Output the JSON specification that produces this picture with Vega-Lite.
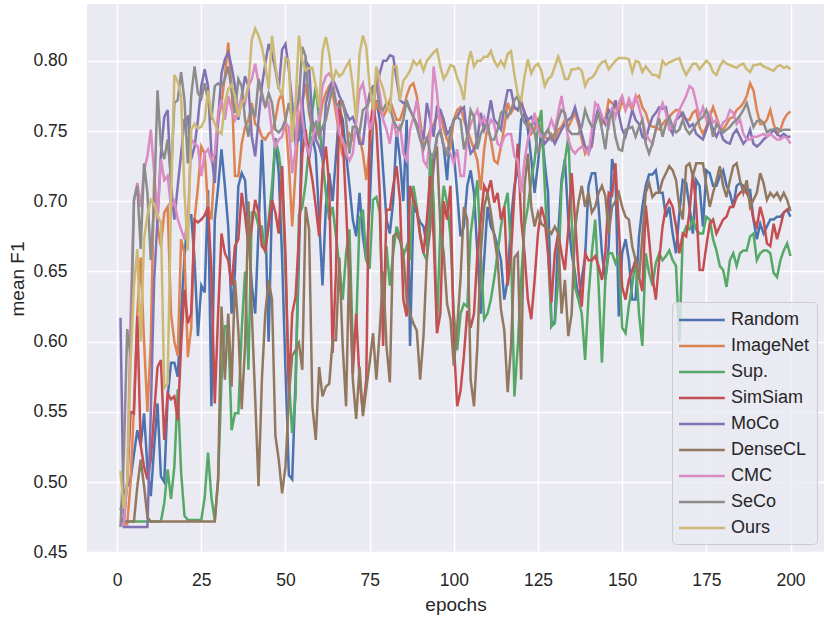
{
  "$schema": "https://vega.github.io/schema/vega-lite/v6.json",
  "width": 737,
  "height": 549,
  "autosize": {"type": "none"},
  "padding": {"left": 87, "top": 4, "right": 6, "bottom": 65},
  "background": "white",
  "config": {
    "font": "Liberation Sans",
    "view": {"fill": "#EAEAF2", "stroke": null},
    "axis": {
      "grid": true,
      "gridColor": "white",
      "gridWidth": 1.5,
      "domain": false,
      "ticks": false,
      "labelFontSize": 17.5,
      "labelColor": "#262626",
      "titleFontSize": 19,
      "titleFontWeight": "normal",
      "titleColor": "#262626"
    }
  },
  "data": {
    "values": [
      {"e":1,"Random":0.48,"ImageNet":0.47,"Sup":0.472,"SimSiam":0.473,"MoCo":0.617,"DenseCL":0.472,"CMC":0.47,"SeCo":0.468,"Ours":0.508},
      {"e":2,"Random":0.49,"ImageNet":0.47,"Sup":0.472,"SimSiam":0.473,"MoCo":0.468,"DenseCL":0.472,"CMC":0.47,"SeCo":0.52,"Ours":0.481},
      {"e":3,"Random":0.497,"ImageNet":0.47,"Sup":0.472,"SimSiam":0.5,"MoCo":0.468,"DenseCL":0.472,"CMC":0.5,"SeCo":0.609,"Ours":0.5},
      {"e":4,"Random":0.502,"ImageNet":0.5,"Sup":0.472,"SimSiam":0.55,"MoCo":0.468,"DenseCL":0.472,"CMC":0.62,"SeCo":0.59,"Ours":0.585},
      {"e":5,"Random":0.52,"ImageNet":0.554,"Sup":0.472,"SimSiam":0.549,"MoCo":0.468,"DenseCL":0.472,"CMC":0.701,"SeCo":0.701,"Ours":0.64},
      {"e":6,"Random":0.537,"ImageNet":0.62,"Sup":0.472,"SimSiam":0.618,"MoCo":0.468,"DenseCL":0.497,"CMC":0.713,"SeCo":0.711,"Ours":0.666},
      {"e":7,"Random":0.526,"ImageNet":0.66,"Sup":0.472,"SimSiam":0.526,"MoCo":0.468,"DenseCL":0.516,"CMC":0.696,"SeCo":0.666,"Ours":0.6},
      {"e":8,"Random":0.549,"ImageNet":0.6,"Sup":0.472,"SimSiam":0.511,"MoCo":0.468,"DenseCL":0.497,"CMC":0.722,"SeCo":0.727,"Ours":0.673},
      {"e":9,"Random":0.51,"ImageNet":0.55,"Sup":0.472,"SimSiam":0.502,"MoCo":0.468,"DenseCL":0.475,"CMC":0.732,"SeCo":0.706,"Ours":0.69},
      {"e":10,"Random":0.49,"ImageNet":0.6,"Sup":0.472,"SimSiam":0.516,"MoCo":0.55,"DenseCL":0.472,"CMC":0.751,"SeCo":0.658,"Ours":0.701},
      {"e":11,"Random":0.525,"ImageNet":0.718,"Sup":0.472,"SimSiam":0.549,"MoCo":0.644,"DenseCL":0.472,"CMC":0.72,"SeCo":0.7,"Ours":0.698},
      {"e":12,"Random":0.556,"ImageNet":0.682,"Sup":0.472,"SimSiam":0.582,"MoCo":0.687,"DenseCL":0.472,"CMC":0.687,"SeCo":0.779,"Ours":0.69},
      {"e":13,"Random":0.504,"ImageNet":0.668,"Sup":0.472,"SimSiam":0.587,"MoCo":0.734,"DenseCL":0.472,"CMC":0.73,"SeCo":0.739,"Ours":0.685},
      {"e":14,"Random":0.5,"ImageNet":0.692,"Sup":0.485,"SimSiam":0.53,"MoCo":0.76,"DenseCL":0.472,"CMC":0.715,"SeCo":0.73,"Ours":0.567},
      {"e":15,"Random":0.56,"ImageNet":0.696,"Sup":0.509,"SimSiam":0.563,"MoCo":0.765,"DenseCL":0.472,"CMC":0.718,"SeCo":0.744,"Ours":0.57},
      {"e":16,"Random":0.585,"ImageNet":0.62,"Sup":0.488,"SimSiam":0.559,"MoCo":0.711,"DenseCL":0.472,"CMC":0.696,"SeCo":0.716,"Ours":0.7},
      {"e":17,"Random":0.585,"ImageNet":0.6,"Sup":0.511,"SimSiam":0.561,"MoCo":0.687,"DenseCL":0.472,"CMC":0.7,"SeCo":0.77,"Ours":0.79},
      {"e":18,"Random":0.575,"ImageNet":0.59,"Sup":0.566,"SimSiam":0.544,"MoCo":0.711,"DenseCL":0.472,"CMC":0.687,"SeCo":0.772,"Ours":0.785},
      {"e":19,"Random":0.62,"ImageNet":0.673,"Sup":0.507,"SimSiam":0.597,"MoCo":0.734,"DenseCL":0.472,"CMC":0.68,"SeCo":0.792,"Ours":0.775},
      {"e":20,"Random":0.66,"ImageNet":0.663,"Sup":0.476,"SimSiam":0.637,"MoCo":0.758,"DenseCL":0.472,"CMC":0.673,"SeCo":0.772,"Ours":0.706},
      {"e":21,"Random":0.69,"ImageNet":0.589,"Sup":0.473,"SimSiam":0.613,"MoCo":0.76,"DenseCL":0.472,"CMC":0.687,"SeCo":0.727,"Ours":0.665},
      {"e":22,"Random":0.69,"ImageNet":0.61,"Sup":0.473,"SimSiam":0.62,"MoCo":0.73,"DenseCL":0.472,"CMC":0.744,"SeCo":0.775,"Ours":0.751},
      {"e":23,"Random":0.658,"ImageNet":0.687,"Sup":0.473,"SimSiam":0.687,"MoCo":0.739,"DenseCL":0.472,"CMC":0.741,"SeCo":0.796,"Ours":0.755},
      {"e":24,"Random":0.604,"ImageNet":0.71,"Sup":0.473,"SimSiam":0.685,"MoCo":0.758,"DenseCL":0.472,"CMC":0.739,"SeCo":0.777,"Ours":0.752},
      {"e":25,"Random":0.64,"ImageNet":0.739,"Sup":0.473,"SimSiam":0.687,"MoCo":0.782,"DenseCL":0.472,"CMC":0.718,"SeCo":0.773,"Ours":0.753},
      {"e":26,"Random":0.635,"ImageNet":0.734,"Sup":0.489,"SimSiam":0.69,"MoCo":0.794,"DenseCL":0.472,"CMC":0.734,"SeCo":0.784,"Ours":0.758},
      {"e":27,"Random":0.708,"ImageNet":0.696,"Sup":0.521,"SimSiam":0.696,"MoCo":0.782,"DenseCL":0.472,"CMC":0.737,"SeCo":0.772,"Ours":0.779},
      {"e":28,"Random":0.554,"ImageNet":0.687,"Sup":0.489,"SimSiam":0.65,"MoCo":0.734,"DenseCL":0.472,"CMC":0.729,"SeCo":0.758,"Ours":0.762},
      {"e":29,"Random":0.687,"ImageNet":0.727,"Sup":0.473,"SimSiam":0.556,"MoCo":0.713,"DenseCL":0.472,"CMC":0.734,"SeCo":0.782,"Ours":0.755},
      {"e":30,"Random":0.71,"ImageNet":0.758,"Sup":0.502,"SimSiam":0.62,"MoCo":0.758,"DenseCL":0.502,"CMC":0.763,"SeCo":0.784,"Ours":0.75},
      {"e":31,"Random":0.737,"ImageNet":0.77,"Sup":0.573,"SimSiam":0.677,"MoCo":0.791,"DenseCL":0.625,"CMC":0.772,"SeCo":0.782,"Ours":0.748},
      {"e":32,"Random":0.711,"ImageNet":0.789,"Sup":0.611,"SimSiam":0.663,"MoCo":0.801,"DenseCL":0.573,"CMC":0.758,"SeCo":0.787,"Ours":0.77},
      {"e":33,"Random":0.682,"ImageNet":0.813,"Sup":0.611,"SimSiam":0.658,"MoCo":0.806,"DenseCL":0.62,"CMC":0.775,"SeCo":0.796,"Ours":0.78},
      {"e":34,"Random":0.62,"ImageNet":0.782,"Sup":0.537,"SimSiam":0.64,"MoCo":0.796,"DenseCL":0.568,"CMC":0.765,"SeCo":0.779,"Ours":0.783},
      {"e":35,"Random":0.65,"ImageNet":0.718,"Sup":0.549,"SimSiam":0.668,"MoCo":0.782,"DenseCL":0.644,"CMC":0.758,"SeCo":0.763,"Ours":0.775},
      {"e":36,"Random":0.711,"ImageNet":0.718,"Sup":0.549,"SimSiam":0.673,"MoCo":0.758,"DenseCL":0.608,"CMC":0.765,"SeCo":0.787,"Ours":0.76},
      {"e":37,"Random":0.72,"ImageNet":0.741,"Sup":0.608,"SimSiam":0.706,"MoCo":0.775,"DenseCL":0.552,"CMC":0.775,"SeCo":0.782,"Ours":0.77},
      {"e":38,"Random":0.715,"ImageNet":0.753,"Sup":0.65,"SimSiam":0.69,"MoCo":0.789,"DenseCL":0.597,"CMC":0.77,"SeCo":0.758,"Ours":0.773},
      {"e":39,"Random":0.677,"ImageNet":0.758,"Sup":0.58,"SimSiam":0.668,"MoCo":0.782,"DenseCL":0.7,"CMC":0.782,"SeCo":0.746,"Ours":0.783},
      {"e":40,"Random":0.64,"ImageNet":0.77,"Sup":0.692,"SimSiam":0.682,"MoCo":0.746,"DenseCL":0.62,"CMC":0.787,"SeCo":0.767,"Ours":0.815},
      {"e":41,"Random":0.62,"ImageNet":0.755,"Sup":0.692,"SimSiam":0.701,"MoCo":0.732,"DenseCL":0.56,"CMC":0.798,"SeCo":0.76,"Ours":0.823},
      {"e":42,"Random":0.68,"ImageNet":0.753,"Sup":0.682,"SimSiam":0.692,"MoCo":0.758,"DenseCL":0.497,"CMC":0.784,"SeCo":0.787,"Ours":0.818},
      {"e":43,"Random":0.744,"ImageNet":0.746,"Sup":0.682,"SimSiam":0.668,"MoCo":0.782,"DenseCL":0.573,"CMC":0.775,"SeCo":0.777,"Ours":0.81},
      {"e":44,"Random":0.69,"ImageNet":0.744,"Sup":0.663,"SimSiam":0.665,"MoCo":0.798,"DenseCL":0.62,"CMC":0.767,"SeCo":0.767,"Ours":0.797},
      {"e":45,"Random":0.6,"ImageNet":0.748,"Sup":0.687,"SimSiam":0.682,"MoCo":0.812,"DenseCL":0.644,"CMC":0.77,"SeCo":0.777,"Ours":0.78},
      {"e":46,"Random":0.7,"ImageNet":0.75,"Sup":0.711,"SimSiam":0.701,"MoCo":0.805,"DenseCL":0.63,"CMC":0.749,"SeCo":0.77,"Ours":0.818},
      {"e":47,"Random":0.745,"ImageNet":0.758,"Sup":0.744,"SimSiam":0.692,"MoCo":0.794,"DenseCL":0.533,"CMC":0.739,"SeCo":0.751,"Ours":0.797},
      {"e":48,"Random":0.72,"ImageNet":0.772,"Sup":0.734,"SimSiam":0.677,"MoCo":0.78,"DenseCL":0.516,"CMC":0.744,"SeCo":0.749,"Ours":0.781},
      {"e":49,"Random":0.66,"ImageNet":0.777,"Sup":0.715,"SimSiam":0.725,"MoCo":0.808,"DenseCL":0.492,"CMC":0.746,"SeCo":0.752,"Ours":0.775},
      {"e":50,"Random":0.58,"ImageNet":0.758,"Sup":0.65,"SimSiam":0.663,"MoCo":0.812,"DenseCL":0.511,"CMC":0.756,"SeCo":0.758,"Ours":0.802},
      {"e":51,"Random":0.505,"ImageNet":0.727,"Sup":0.573,"SimSiam":0.563,"MoCo":0.794,"DenseCL":0.561,"CMC":0.753,"SeCo":0.77,"Ours":0.8},
      {"e":52,"Random":0.502,"ImageNet":0.682,"Sup":0.535,"SimSiam":0.62,"MoCo":0.77,"DenseCL":0.59,"CMC":0.72,"SeCo":0.758,"Ours":0.742},
      {"e":53,"Random":0.573,"ImageNet":0.722,"Sup":0.561,"SimSiam":0.632,"MoCo":0.741,"DenseCL":0.594,"CMC":0.737,"SeCo":0.765,"Ours":0.77},
      {"e":54,"Random":0.66,"ImageNet":0.758,"Sup":0.69,"SimSiam":0.675,"MoCo":0.744,"DenseCL":0.599,"CMC":0.782,"SeCo":0.773,"Ours":0.818},
      {"e":55,"Random":0.77,"ImageNet":0.77,"Sup":0.696,"SimSiam":0.734,"MoCo":0.767,"DenseCL":0.58,"CMC":0.76,"SeCo":0.81,"Ours":0.8},
      {"e":56,"Random":0.746,"ImageNet":0.784,"Sup":0.713,"SimSiam":0.751,"MoCo":0.8,"DenseCL":0.696,"CMC":0.741,"SeCo":0.803,"Ours":0.793},
      {"e":57,"Random":0.73,"ImageNet":0.763,"Sup":0.739,"SimSiam":0.729,"MoCo":0.796,"DenseCL":0.68,"CMC":0.734,"SeCo":0.767,"Ours":0.795},
      {"e":58,"Random":0.746,"ImageNet":0.751,"Sup":0.765,"SimSiam":0.715,"MoCo":0.758,"DenseCL":0.554,"CMC":0.744,"SeCo":0.751,"Ours":0.795},
      {"e":59,"Random":0.734,"ImageNet":0.746,"Sup":0.782,"SimSiam":0.696,"MoCo":0.744,"DenseCL":0.53,"CMC":0.755,"SeCo":0.756,"Ours":0.782},
      {"e":60,"Random":0.687,"ImageNet":0.755,"Sup":0.758,"SimSiam":0.675,"MoCo":0.739,"DenseCL":0.582,"CMC":0.758,"SeCo":0.746,"Ours":0.767},
      {"e":61,"Random":0.64,"ImageNet":0.77,"Sup":0.729,"SimSiam":0.722,"MoCo":0.73,"DenseCL":0.561,"CMC":0.782,"SeCo":0.753,"Ours":0.807},
      {"e":62,"Random":0.696,"ImageNet":0.777,"Sup":0.706,"SimSiam":0.739,"MoCo":0.77,"DenseCL":0.568,"CMC":0.789,"SeCo":0.758,"Ours":0.817},
      {"e":63,"Random":0.72,"ImageNet":0.782,"Sup":0.687,"SimSiam":0.711,"MoCo":0.779,"DenseCL":0.57,"CMC":0.791,"SeCo":0.77,"Ours":0.805},
      {"e":64,"Random":0.7,"ImageNet":0.777,"Sup":0.696,"SimSiam":0.592,"MoCo":0.787,"DenseCL":0.601,"CMC":0.787,"SeCo":0.782,"Ours":0.785},
      {"e":65,"Random":0.732,"ImageNet":0.763,"Sup":0.675,"SimSiam":0.65,"MoCo":0.782,"DenseCL":0.601,"CMC":0.77,"SeCo":0.77,"Ours":0.793},
      {"e":66,"Random":0.765,"ImageNet":0.746,"Sup":0.654,"SimSiam":0.772,"MoCo":0.775,"DenseCL":0.66,"CMC":0.748,"SeCo":0.767,"Ours":0.789},
      {"e":67,"Random":0.758,"ImageNet":0.732,"Sup":0.63,"SimSiam":0.746,"MoCo":0.77,"DenseCL":0.597,"CMC":0.744,"SeCo":0.77,"Ours":0.791},
      {"e":68,"Random":0.734,"ImageNet":0.739,"Sup":0.663,"SimSiam":0.696,"MoCo":0.763,"DenseCL":0.554,"CMC":0.734,"SeCo":0.758,"Ours":0.796},
      {"e":69,"Random":0.711,"ImageNet":0.748,"Sup":0.68,"SimSiam":0.64,"MoCo":0.758,"DenseCL":0.665,"CMC":0.729,"SeCo":0.734,"Ours":0.8},
      {"e":70,"Random":0.687,"ImageNet":0.744,"Sup":0.597,"SimSiam":0.577,"MoCo":0.76,"DenseCL":0.573,"CMC":0.734,"SeCo":0.753,"Ours":0.782},
      {"e":71,"Random":0.675,"ImageNet":0.751,"Sup":0.61,"SimSiam":0.62,"MoCo":0.753,"DenseCL":0.545,"CMC":0.756,"SeCo":0.753,"Ours":0.758},
      {"e":72,"Random":0.706,"ImageNet":0.746,"Sup":0.687,"SimSiam":0.573,"MoCo":0.741,"DenseCL":0.582,"CMC":0.779,"SeCo":0.749,"Ours":0.805},
      {"e":73,"Random":0.675,"ImageNet":0.734,"Sup":0.694,"SimSiam":0.55,"MoCo":0.741,"DenseCL":0.547,"CMC":0.784,"SeCo":0.765,"Ours":0.818},
      {"e":74,"Random":0.658,"ImageNet":0.715,"Sup":0.658,"SimSiam":0.573,"MoCo":0.763,"DenseCL":0.566,"CMC":0.77,"SeCo":0.767,"Ours":0.81},
      {"e":75,"Random":0.696,"ImageNet":0.739,"Sup":0.652,"SimSiam":0.748,"MoCo":0.777,"DenseCL":0.585,"CMC":0.751,"SeCo":0.772,"Ours":0.782},
      {"e":76,"Random":0.758,"ImageNet":0.758,"Sup":0.701,"SimSiam":0.77,"MoCo":0.782,"DenseCL":0.606,"CMC":0.758,"SeCo":0.779,"Ours":0.765},
      {"e":77,"Random":0.772,"ImageNet":0.77,"Sup":0.703,"SimSiam":0.753,"MoCo":0.782,"DenseCL":0.573,"CMC":0.791,"SeCo":0.784,"Ours":0.796},
      {"e":78,"Random":0.758,"ImageNet":0.765,"Sup":0.692,"SimSiam":0.706,"MoCo":0.791,"DenseCL":0.608,"CMC":0.777,"SeCo":0.767,"Ours":0.787},
      {"e":79,"Random":0.722,"ImageNet":0.76,"Sup":0.609,"SimSiam":0.597,"MoCo":0.8,"DenseCL":0.65,"CMC":0.758,"SeCo":0.765,"Ours":0.78},
      {"e":80,"Random":0.687,"ImageNet":0.765,"Sup":0.668,"SimSiam":0.694,"MoCo":0.8,"DenseCL":0.597,"CMC":0.751,"SeCo":0.77,"Ours":0.77},
      {"e":81,"Random":0.677,"ImageNet":0.772,"Sup":0.64,"SimSiam":0.694,"MoCo":0.804,"DenseCL":0.571,"CMC":0.741,"SeCo":0.767,"Ours":0.763},
      {"e":82,"Random":0.7,"ImageNet":0.765,"Sup":0.663,"SimSiam":0.711,"MoCo":0.803,"DenseCL":0.675,"CMC":0.758,"SeCo":0.758,"Ours":0.796},
      {"e":83,"Random":0.75,"ImageNet":0.758,"Sup":0.682,"SimSiam":0.725,"MoCo":0.787,"DenseCL":0.677,"CMC":0.746,"SeCo":0.753,"Ours":0.796},
      {"e":84,"Random":0.73,"ImageNet":0.758,"Sup":0.675,"SimSiam":0.701,"MoCo":0.772,"DenseCL":0.672,"CMC":0.755,"SeCo":0.751,"Ours":0.772},
      {"e":85,"Random":0.7,"ImageNet":0.765,"Sup":0.661,"SimSiam":0.63,"MoCo":0.77,"DenseCL":0.663,"CMC":0.734,"SeCo":0.758,"Ours":0.786},
      {"e":86,"Random":0.758,"ImageNet":0.775,"Sup":0.668,"SimSiam":0.618,"MoCo":0.77,"DenseCL":0.63,"CMC":0.729,"SeCo":0.772,"Ours":0.789},
      {"e":87,"Random":0.597,"ImageNet":0.782,"Sup":0.658,"SimSiam":0.711,"MoCo":0.765,"DenseCL":0.62,"CMC":0.751,"SeCo":0.765,"Ours":0.793},
      {"e":88,"Random":0.696,"ImageNet":0.784,"Sup":0.711,"SimSiam":0.701,"MoCo":0.76,"DenseCL":0.613,"CMC":0.76,"SeCo":0.76,"Ours":0.8},
      {"e":89,"Random":0.692,"ImageNet":0.775,"Sup":0.696,"SimSiam":0.694,"MoCo":0.755,"DenseCL":0.608,"CMC":0.772,"SeCo":0.753,"Ours":0.797},
      {"e":90,"Random":0.685,"ImageNet":0.758,"Sup":0.677,"SimSiam":0.675,"MoCo":0.751,"DenseCL":0.573,"CMC":0.751,"SeCo":0.744,"Ours":0.8},
      {"e":91,"Random":0.682,"ImageNet":0.739,"Sup":0.663,"SimSiam":0.663,"MoCo":0.744,"DenseCL":0.604,"CMC":0.729,"SeCo":0.737,"Ours":0.793},
      {"e":92,"Random":0.668,"ImageNet":0.744,"Sup":0.658,"SimSiam":0.687,"MoCo":0.77,"DenseCL":0.66,"CMC":0.725,"SeCo":0.746,"Ours":0.8},
      {"e":93,"Random":0.696,"ImageNet":0.751,"Sup":0.734,"SimSiam":0.718,"MoCo":0.758,"DenseCL":0.68,"CMC":0.746,"SeCo":0.734,"Ours":0.803},
      {"e":94,"Random":0.725,"ImageNet":0.755,"Sup":0.7,"SimSiam":0.675,"MoCo":0.746,"DenseCL":0.734,"CMC":0.796,"SeCo":0.732,"Ours":0.806},
      {"e":95,"Random":0.746,"ImageNet":0.76,"Sup":0.61,"SimSiam":0.606,"MoCo":0.767,"DenseCL":0.739,"CMC":0.777,"SeCo":0.746,"Ours":0.808},
      {"e":96,"Random":0.751,"ImageNet":0.763,"Sup":0.682,"SimSiam":0.62,"MoCo":0.765,"DenseCL":0.682,"CMC":0.751,"SeCo":0.75,"Ours":0.796},
      {"e":97,"Random":0.739,"ImageNet":0.751,"Sup":0.711,"SimSiam":0.7,"MoCo":0.758,"DenseCL":0.663,"CMC":0.739,"SeCo":0.739,"Ours":0.787},
      {"e":98,"Random":0.715,"ImageNet":0.744,"Sup":0.699,"SimSiam":0.687,"MoCo":0.748,"DenseCL":0.627,"CMC":0.737,"SeCo":0.732,"Ours":0.791},
      {"e":99,"Random":0.753,"ImageNet":0.739,"Sup":0.675,"SimSiam":0.711,"MoCo":0.751,"DenseCL":0.616,"CMC":0.734,"SeCo":0.749,"Ours":0.797},
      {"e":100,"Random":0.734,"ImageNet":0.758,"Sup":0.62,"SimSiam":0.6,"MoCo":0.758,"DenseCL":0.583,"CMC":0.727,"SeCo":0.758,"Ours":0.796},
      {"e":101,"Random":0.706,"ImageNet":0.765,"Sup":0.594,"SimSiam":0.554,"MoCo":0.76,"DenseCL":0.61,"CMC":0.737,"SeCo":0.76,"Ours":0.788},
      {"e":102,"Random":0.675,"ImageNet":0.767,"Sup":0.62,"SimSiam":0.565,"MoCo":0.765,"DenseCL":0.645,"CMC":0.718,"SeCo":0.758,"Ours":0.782},
      {"e":103,"Random":0.682,"ImageNet":0.758,"Sup":0.627,"SimSiam":0.59,"MoCo":0.767,"DenseCL":0.696,"CMC":0.718,"SeCo":0.737,"Ours":0.772},
      {"e":104,"Random":0.711,"ImageNet":0.751,"Sup":0.625,"SimSiam":0.622,"MoCo":0.746,"DenseCL":0.687,"CMC":0.746,"SeCo":0.746,"Ours":0.796},
      {"e":105,"Random":0.722,"ImageNet":0.744,"Sup":0.677,"SimSiam":0.61,"MoCo":0.734,"DenseCL":0.573,"CMC":0.755,"SeCo":0.765,"Ours":0.807},
      {"e":106,"Random":0.706,"ImageNet":0.737,"Sup":0.696,"SimSiam":0.62,"MoCo":0.737,"DenseCL":0.554,"CMC":0.76,"SeCo":0.76,"Ours":0.796},
      {"e":107,"Random":0.663,"ImageNet":0.729,"Sup":0.715,"SimSiam":0.663,"MoCo":0.744,"DenseCL":0.597,"CMC":0.765,"SeCo":0.737,"Ours":0.8},
      {"e":108,"Random":0.62,"ImageNet":0.708,"Sup":0.663,"SimSiam":0.687,"MoCo":0.763,"DenseCL":0.663,"CMC":0.755,"SeCo":0.748,"Ours":0.8},
      {"e":109,"Random":0.658,"ImageNet":0.737,"Sup":0.616,"SimSiam":0.711,"MoCo":0.751,"DenseCL":0.696,"CMC":0.76,"SeCo":0.753,"Ours":0.803},
      {"e":110,"Random":0.696,"ImageNet":0.753,"Sup":0.62,"SimSiam":0.706,"MoCo":0.758,"DenseCL":0.706,"CMC":0.751,"SeCo":0.755,"Ours":0.803},
      {"e":111,"Random":0.682,"ImageNet":0.744,"Sup":0.63,"SimSiam":0.715,"MoCo":0.772,"DenseCL":0.692,"CMC":0.758,"SeCo":0.744,"Ours":0.807},
      {"e":112,"Random":0.677,"ImageNet":0.729,"Sup":0.645,"SimSiam":0.699,"MoCo":0.758,"DenseCL":0.675,"CMC":0.755,"SeCo":0.744,"Ours":0.8},
      {"e":113,"Random":0.668,"ImageNet":0.727,"Sup":0.663,"SimSiam":0.706,"MoCo":0.755,"DenseCL":0.658,"CMC":0.741,"SeCo":0.751,"Ours":0.796},
      {"e":114,"Random":0.658,"ImageNet":0.739,"Sup":0.682,"SimSiam":0.687,"MoCo":0.751,"DenseCL":0.623,"CMC":0.739,"SeCo":0.763,"Ours":0.8},
      {"e":115,"Random":0.63,"ImageNet":0.753,"Sup":0.696,"SimSiam":0.696,"MoCo":0.767,"DenseCL":0.608,"CMC":0.746,"SeCo":0.765,"Ours":0.796},
      {"e":116,"Random":0.644,"ImageNet":0.77,"Sup":0.706,"SimSiam":0.64,"MoCo":0.779,"DenseCL":0.564,"CMC":0.748,"SeCo":0.76,"Ours":0.805},
      {"e":117,"Random":0.687,"ImageNet":0.763,"Sup":0.663,"SimSiam":0.663,"MoCo":0.779,"DenseCL":0.597,"CMC":0.748,"SeCo":0.765,"Ours":0.807},
      {"e":118,"Random":0.711,"ImageNet":0.767,"Sup":0.561,"SimSiam":0.706,"MoCo":0.767,"DenseCL":0.66,"CMC":0.732,"SeCo":0.772,"Ours":0.79},
      {"e":119,"Random":0.722,"ImageNet":0.765,"Sup":0.597,"SimSiam":0.741,"MoCo":0.765,"DenseCL":0.663,"CMC":0.729,"SeCo":0.775,"Ours":0.776},
      {"e":120,"Random":0.758,"ImageNet":0.772,"Sup":0.645,"SimSiam":0.687,"MoCo":0.77,"DenseCL":0.573,"CMC":0.706,"SeCo":0.763,"Ours":0.772},
      {"e":121,"Random":0.763,"ImageNet":0.763,"Sup":0.682,"SimSiam":0.663,"MoCo":0.763,"DenseCL":0.711,"CMC":0.729,"SeCo":0.756,"Ours":0.789},
      {"e":122,"Random":0.751,"ImageNet":0.758,"Sup":0.696,"SimSiam":0.63,"MoCo":0.758,"DenseCL":0.734,"CMC":0.744,"SeCo":0.753,"Ours":0.801},
      {"e":123,"Random":0.73,"ImageNet":0.748,"Sup":0.715,"SimSiam":0.616,"MoCo":0.76,"DenseCL":0.696,"CMC":0.751,"SeCo":0.755,"Ours":0.791},
      {"e":124,"Random":0.706,"ImageNet":0.751,"Sup":0.729,"SimSiam":0.644,"MoCo":0.755,"DenseCL":0.682,"CMC":0.763,"SeCo":0.749,"Ours":0.796},
      {"e":125,"Random":0.727,"ImageNet":0.758,"Sup":0.753,"SimSiam":0.677,"MoCo":0.753,"DenseCL":0.692,"CMC":0.751,"SeCo":0.734,"Ours":0.798},
      {"e":126,"Random":0.751,"ImageNet":0.751,"Sup":0.765,"SimSiam":0.696,"MoCo":0.748,"DenseCL":0.684,"CMC":0.746,"SeCo":0.741,"Ours":0.793},
      {"e":127,"Random":0.727,"ImageNet":0.746,"Sup":0.711,"SimSiam":0.687,"MoCo":0.741,"DenseCL":0.682,"CMC":0.746,"SeCo":0.748,"Ours":0.782},
      {"e":128,"Random":0.706,"ImageNet":0.744,"Sup":0.663,"SimSiam":0.663,"MoCo":0.744,"DenseCL":0.68,"CMC":0.751,"SeCo":0.751,"Ours":0.787},
      {"e":129,"Random":0.611,"ImageNet":0.748,"Sup":0.611,"SimSiam":0.628,"MoCo":0.746,"DenseCL":0.677,"CMC":0.758,"SeCo":0.744,"Ours":0.789},
      {"e":130,"Random":0.615,"ImageNet":0.744,"Sup":0.613,"SimSiam":0.663,"MoCo":0.741,"DenseCL":0.682,"CMC":0.751,"SeCo":0.748,"Ours":0.796},
      {"e":131,"Random":0.677,"ImageNet":0.751,"Sup":0.644,"SimSiam":0.677,"MoCo":0.746,"DenseCL":0.677,"CMC":0.763,"SeCo":0.758,"Ours":0.803},
      {"e":132,"Random":0.715,"ImageNet":0.753,"Sup":0.711,"SimSiam":0.663,"MoCo":0.751,"DenseCL":0.62,"CMC":0.775,"SeCo":0.765,"Ours":0.796},
      {"e":133,"Random":0.73,"ImageNet":0.758,"Sup":0.729,"SimSiam":0.651,"MoCo":0.755,"DenseCL":0.644,"CMC":0.76,"SeCo":0.763,"Ours":0.787},
      {"e":134,"Random":0.687,"ImageNet":0.753,"Sup":0.746,"SimSiam":0.68,"MoCo":0.758,"DenseCL":0.604,"CMC":0.744,"SeCo":0.751,"Ours":0.787},
      {"e":135,"Random":0.663,"ImageNet":0.758,"Sup":0.687,"SimSiam":0.72,"MoCo":0.76,"DenseCL":0.62,"CMC":0.737,"SeCo":0.748,"Ours":0.794},
      {"e":136,"Random":0.649,"ImageNet":0.763,"Sup":0.639,"SimSiam":0.687,"MoCo":0.767,"DenseCL":0.68,"CMC":0.734,"SeCo":0.748,"Ours":0.794},
      {"e":137,"Random":0.63,"ImageNet":0.755,"Sup":0.63,"SimSiam":0.651,"MoCo":0.758,"DenseCL":0.699,"CMC":0.737,"SeCo":0.748,"Ours":0.795},
      {"e":138,"Random":0.645,"ImageNet":0.744,"Sup":0.62,"SimSiam":0.625,"MoCo":0.748,"DenseCL":0.711,"CMC":0.739,"SeCo":0.753,"Ours":0.793},
      {"e":139,"Random":0.66,"ImageNet":0.734,"Sup":0.587,"SimSiam":0.663,"MoCo":0.739,"DenseCL":0.696,"CMC":0.737,"SeCo":0.765,"Ours":0.782},
      {"e":140,"Random":0.711,"ImageNet":0.739,"Sup":0.632,"SimSiam":0.658,"MoCo":0.734,"DenseCL":0.706,"CMC":0.734,"SeCo":0.758,"Ours":0.787},
      {"e":141,"Random":0.72,"ImageNet":0.739,"Sup":0.663,"SimSiam":0.658,"MoCo":0.741,"DenseCL":0.692,"CMC":0.751,"SeCo":0.753,"Ours":0.788},
      {"e":142,"Random":0.72,"ImageNet":0.758,"Sup":0.687,"SimSiam":0.661,"MoCo":0.758,"DenseCL":0.696,"CMC":0.77,"SeCo":0.755,"Ours":0.791},
      {"e":143,"Random":0.696,"ImageNet":0.763,"Sup":0.64,"SimSiam":0.654,"MoCo":0.767,"DenseCL":0.706,"CMC":0.767,"SeCo":0.763,"Ours":0.796},
      {"e":144,"Random":0.663,"ImageNet":0.755,"Sup":0.585,"SimSiam":0.644,"MoCo":0.76,"DenseCL":0.711,"CMC":0.76,"SeCo":0.751,"Ours":0.799},
      {"e":145,"Random":0.644,"ImageNet":0.758,"Sup":0.644,"SimSiam":0.663,"MoCo":0.755,"DenseCL":0.704,"CMC":0.758,"SeCo":0.737,"Ours":0.8},
      {"e":146,"Random":0.668,"ImageNet":0.772,"Sup":0.663,"SimSiam":0.706,"MoCo":0.765,"DenseCL":0.677,"CMC":0.753,"SeCo":0.758,"Ours":0.794},
      {"e":147,"Random":0.73,"ImageNet":0.77,"Sup":0.663,"SimSiam":0.704,"MoCo":0.762,"DenseCL":0.696,"CMC":0.767,"SeCo":0.763,"Ours":0.797},
      {"e":148,"Random":0.72,"ImageNet":0.767,"Sup":0.656,"SimSiam":0.727,"MoCo":0.772,"DenseCL":0.7,"CMC":0.76,"SeCo":0.746,"Ours":0.8},
      {"e":149,"Random":0.618,"ImageNet":0.763,"Sup":0.663,"SimSiam":0.682,"MoCo":0.762,"DenseCL":0.706,"CMC":0.77,"SeCo":0.737,"Ours":0.802},
      {"e":150,"Random":0.663,"ImageNet":0.772,"Sup":0.61,"SimSiam":0.639,"MoCo":0.751,"DenseCL":0.696,"CMC":0.775,"SeCo":0.736,"Ours":0.802},
      {"e":151,"Random":0.673,"ImageNet":0.765,"Sup":0.606,"SimSiam":0.63,"MoCo":0.746,"DenseCL":0.689,"CMC":0.765,"SeCo":0.751,"Ours":0.802},
      {"e":152,"Random":0.658,"ImageNet":0.77,"Sup":0.626,"SimSiam":0.644,"MoCo":0.755,"DenseCL":0.687,"CMC":0.773,"SeCo":0.752,"Ours":0.801},
      {"e":153,"Random":0.63,"ImageNet":0.765,"Sup":0.64,"SimSiam":0.651,"MoCo":0.765,"DenseCL":0.668,"CMC":0.767,"SeCo":0.753,"Ours":0.792},
      {"e":154,"Random":0.63,"ImageNet":0.773,"Sup":0.66,"SimSiam":0.658,"MoCo":0.758,"DenseCL":0.658,"CMC":0.775,"SeCo":0.746,"Ours":0.8},
      {"e":155,"Random":0.675,"ImageNet":0.775,"Sup":0.62,"SimSiam":0.646,"MoCo":0.755,"DenseCL":0.644,"CMC":0.767,"SeCo":0.753,"Ours":0.799},
      {"e":156,"Random":0.696,"ImageNet":0.767,"Sup":0.597,"SimSiam":0.636,"MoCo":0.746,"DenseCL":0.675,"CMC":0.758,"SeCo":0.758,"Ours":0.792},
      {"e":157,"Random":0.711,"ImageNet":0.763,"Sup":0.663,"SimSiam":0.697,"MoCo":0.744,"DenseCL":0.706,"CMC":0.748,"SeCo":0.741,"Ours":0.796},
      {"e":158,"Random":0.719,"ImageNet":0.755,"Sup":0.649,"SimSiam":0.673,"MoCo":0.753,"DenseCL":0.713,"CMC":0.744,"SeCo":0.734,"Ours":0.793},
      {"e":159,"Random":0.719,"ImageNet":0.753,"Sup":0.64,"SimSiam":0.646,"MoCo":0.76,"DenseCL":0.703,"CMC":0.741,"SeCo":0.741,"Ours":0.79},
      {"e":160,"Random":0.722,"ImageNet":0.753,"Sup":0.656,"SimSiam":0.63,"MoCo":0.763,"DenseCL":0.706,"CMC":0.751,"SeCo":0.751,"Ours":0.79},
      {"e":161,"Random":0.706,"ImageNet":0.751,"Sup":0.663,"SimSiam":0.658,"MoCo":0.767,"DenseCL":0.706,"CMC":0.763,"SeCo":0.759,"Ours":0.788},
      {"e":162,"Random":0.706,"ImageNet":0.755,"Sup":0.658,"SimSiam":0.682,"MoCo":0.766,"DenseCL":0.715,"CMC":0.77,"SeCo":0.746,"Ours":0.8},
      {"e":163,"Random":0.689,"ImageNet":0.758,"Sup":0.661,"SimSiam":0.696,"MoCo":0.767,"DenseCL":0.72,"CMC":0.763,"SeCo":0.755,"Ours":0.797},
      {"e":164,"Random":0.696,"ImageNet":0.76,"Sup":0.665,"SimSiam":0.701,"MoCo":0.753,"DenseCL":0.725,"CMC":0.751,"SeCo":0.76,"Ours":0.799},
      {"e":165,"Random":0.677,"ImageNet":0.763,"Sup":0.658,"SimSiam":0.696,"MoCo":0.748,"DenseCL":0.722,"CMC":0.753,"SeCo":0.753,"Ours":0.8},
      {"e":166,"Random":0.663,"ImageNet":0.765,"Sup":0.654,"SimSiam":0.682,"MoCo":0.758,"DenseCL":0.715,"CMC":0.758,"SeCo":0.749,"Ours":0.801},
      {"e":167,"Random":0.692,"ImageNet":0.765,"Sup":0.6,"SimSiam":0.663,"MoCo":0.76,"DenseCL":0.696,"CMC":0.765,"SeCo":0.751,"Ours":0.802},
      {"e":168,"Random":0.715,"ImageNet":0.76,"Sup":0.675,"SimSiam":0.677,"MoCo":0.763,"DenseCL":0.687,"CMC":0.77,"SeCo":0.758,"Ours":0.795},
      {"e":169,"Random":0.713,"ImageNet":0.758,"Sup":0.682,"SimSiam":0.675,"MoCo":0.758,"DenseCL":0.725,"CMC":0.775,"SeCo":0.751,"Ours":0.79},
      {"e":170,"Random":0.696,"ImageNet":0.758,"Sup":0.68,"SimSiam":0.692,"MoCo":0.753,"DenseCL":0.727,"CMC":0.782,"SeCo":0.748,"Ours":0.794},
      {"e":171,"Random":0.677,"ImageNet":0.763,"Sup":0.687,"SimSiam":0.72,"MoCo":0.755,"DenseCL":0.718,"CMC":0.78,"SeCo":0.751,"Ours":0.798},
      {"e":172,"Random":0.715,"ImageNet":0.765,"Sup":0.68,"SimSiam":0.696,"MoCo":0.748,"DenseCL":0.727,"CMC":0.77,"SeCo":0.755,"Ours":0.798},
      {"e":173,"Random":0.711,"ImageNet":0.753,"Sup":0.677,"SimSiam":0.651,"MoCo":0.746,"DenseCL":0.727,"CMC":0.76,"SeCo":0.758,"Ours":0.794},
      {"e":174,"Random":0.682,"ImageNet":0.748,"Sup":0.677,"SimSiam":0.651,"MoCo":0.744,"DenseCL":0.727,"CMC":0.767,"SeCo":0.76,"Ours":0.797},
      {"e":175,"Random":0.722,"ImageNet":0.753,"Sup":0.689,"SimSiam":0.668,"MoCo":0.751,"DenseCL":0.711,"CMC":0.758,"SeCo":0.765,"Ours":0.8},
      {"e":176,"Random":0.72,"ImageNet":0.76,"Sup":0.687,"SimSiam":0.684,"MoCo":0.758,"DenseCL":0.696,"CMC":0.763,"SeCo":0.758,"Ours":0.798},
      {"e":177,"Random":0.711,"ImageNet":0.767,"Sup":0.673,"SimSiam":0.687,"MoCo":0.751,"DenseCL":0.706,"CMC":0.756,"SeCo":0.746,"Ours":0.792},
      {"e":178,"Random":0.711,"ImageNet":0.76,"Sup":0.665,"SimSiam":0.677,"MoCo":0.746,"DenseCL":0.715,"CMC":0.758,"SeCo":0.755,"Ours":0.79},
      {"e":179,"Random":0.718,"ImageNet":0.753,"Sup":0.654,"SimSiam":0.682,"MoCo":0.751,"DenseCL":0.725,"CMC":0.751,"SeCo":0.752,"Ours":0.796},
      {"e":180,"Random":0.722,"ImageNet":0.751,"Sup":0.651,"SimSiam":0.687,"MoCo":0.744,"DenseCL":0.711,"CMC":0.756,"SeCo":0.749,"Ours":0.8},
      {"e":181,"Random":0.711,"ImageNet":0.755,"Sup":0.639,"SimSiam":0.689,"MoCo":0.742,"DenseCL":0.703,"CMC":0.758,"SeCo":0.751,"Ours":0.798},
      {"e":182,"Random":0.706,"ImageNet":0.759,"Sup":0.658,"SimSiam":0.696,"MoCo":0.741,"DenseCL":0.715,"CMC":0.765,"SeCo":0.753,"Ours":0.797},
      {"e":183,"Random":0.696,"ImageNet":0.76,"Sup":0.663,"SimSiam":0.696,"MoCo":0.748,"DenseCL":0.725,"CMC":0.763,"SeCo":0.756,"Ours":0.796},
      {"e":184,"Random":0.711,"ImageNet":0.765,"Sup":0.654,"SimSiam":0.703,"MoCo":0.751,"DenseCL":0.727,"CMC":0.755,"SeCo":0.758,"Ours":0.795},
      {"e":185,"Random":0.713,"ImageNet":0.767,"Sup":0.663,"SimSiam":0.706,"MoCo":0.746,"DenseCL":0.715,"CMC":0.758,"SeCo":0.761,"Ours":0.797},
      {"e":186,"Random":0.711,"ImageNet":0.77,"Sup":0.665,"SimSiam":0.708,"MoCo":0.741,"DenseCL":0.706,"CMC":0.748,"SeCo":0.765,"Ours":0.798},
      {"e":187,"Random":0.708,"ImageNet":0.775,"Sup":0.665,"SimSiam":0.706,"MoCo":0.744,"DenseCL":0.715,"CMC":0.744,"SeCo":0.77,"Ours":0.794},
      {"e":188,"Random":0.708,"ImageNet":0.784,"Sup":0.675,"SimSiam":0.701,"MoCo":0.751,"DenseCL":0.696,"CMC":0.744,"SeCo":0.761,"Ours":0.792},
      {"e":189,"Random":0.687,"ImageNet":0.779,"Sup":0.677,"SimSiam":0.687,"MoCo":0.741,"DenseCL":0.701,"CMC":0.746,"SeCo":0.753,"Ours":0.797},
      {"e":190,"Random":0.673,"ImageNet":0.765,"Sup":0.658,"SimSiam":0.682,"MoCo":0.739,"DenseCL":0.706,"CMC":0.746,"SeCo":0.757,"Ours":0.797},
      {"e":191,"Random":0.684,"ImageNet":0.755,"Sup":0.663,"SimSiam":0.696,"MoCo":0.741,"DenseCL":0.72,"CMC":0.747,"SeCo":0.758,"Ours":0.798},
      {"e":192,"Random":0.677,"ImageNet":0.755,"Sup":0.665,"SimSiam":0.687,"MoCo":0.744,"DenseCL":0.713,"CMC":0.748,"SeCo":0.756,"Ours":0.796},
      {"e":193,"Random":0.682,"ImageNet":0.758,"Sup":0.665,"SimSiam":0.67,"MoCo":0.746,"DenseCL":0.701,"CMC":0.746,"SeCo":0.749,"Ours":0.795},
      {"e":194,"Random":0.687,"ImageNet":0.765,"Sup":0.663,"SimSiam":0.668,"MoCo":0.748,"DenseCL":0.706,"CMC":0.748,"SeCo":0.751,"Ours":0.794},
      {"e":195,"Random":0.687,"ImageNet":0.755,"Sup":0.649,"SimSiam":0.684,"MoCo":0.751,"DenseCL":0.703,"CMC":0.746,"SeCo":0.751,"Ours":0.793},
      {"e":196,"Random":0.689,"ImageNet":0.748,"Sup":0.646,"SimSiam":0.673,"MoCo":0.748,"DenseCL":0.706,"CMC":0.744,"SeCo":0.752,"Ours":0.796},
      {"e":197,"Random":0.689,"ImageNet":0.751,"Sup":0.658,"SimSiam":0.682,"MoCo":0.746,"DenseCL":0.701,"CMC":0.744,"SeCo":0.75,"Ours":0.797},
      {"e":198,"Random":0.692,"ImageNet":0.758,"Sup":0.665,"SimSiam":0.692,"MoCo":0.748,"DenseCL":0.706,"CMC":0.746,"SeCo":0.751,"Ours":0.795},
      {"e":199,"Random":0.694,"ImageNet":0.762,"Sup":0.67,"SimSiam":0.694,"MoCo":0.746,"DenseCL":0.701,"CMC":0.745,"SeCo":0.751,"Ours":0.796},
      {"e":200,"Random":0.689,"ImageNet":0.764,"Sup":0.661,"SimSiam":0.696,"MoCo":0.746,"DenseCL":0.693,"CMC":0.741,"SeCo":0.751,"Ours":0.794}
    ]
  },
  "transform": [
    {"fold": ["Random", "ImageNet", "Sup", "SimSiam", "MoCo", "DenseCL", "CMC", "SeCo", "Ours"], "as": ["method", "f1"]}
  ],
  "mark": {"type": "line", "strokeWidth": 2.5, "clip": true},
  "encoding": {
    "x": {
      "field": "e",
      "type": "quantitative",
      "scale": {"domain": [-8.95, 209.95], "nice": false, "zero": false},
      "axis": {"values": [0, 25, 50, 75, 100, 125, 150, 175, 200], "title": "epochs", "labelPadding": 18, "titlePadding": 7}
    },
    "y": {
      "field": "f1",
      "type": "quantitative",
      "scale": {"domain": [0.4495, 0.8405], "nice": false, "zero": false},
      "axis": {"values": [0.45, 0.5, 0.55, 0.6, 0.65, 0.7, 0.75, 0.8], "format": ".2f", "title": "mean F1", "labelPadding": 20, "titlePadding": 5}
    },
    "color": {
      "field": "method",
      "type": "nominal",
      "scale": {
        "domain": ["Random", "ImageNet", "Sup", "SimSiam", "MoCo", "DenseCL", "CMC", "SeCo", "Ours"],
        "range": ["#4C72B0", "#DD8452", "#55A868", "#C44E52", "#8172B3", "#937860", "#DA8BC3", "#8C8C8C", "#CCB974"]
      },
      "legend": {
        "title": null,
        "orient": "none",
        "legendX": 585,
        "legendY": 298,
        "symbolType": "M0,0H4.7",
        "symbolSize": 380,
        "symbolStrokeWidth": 2.5,
        "symbolOffset": -11,
        "labelOffset": 41,
        "labelFontSize": 18,
        "labelColor": "#262626",
        "rowPadding": 6,
        "padding": 7,
        "fillColor": "rgba(234,234,242,0.8)",
        "strokeColor": "#CCCCCC",
        "cornerRadius": 4,
        "labelExpr": "datum.label == 'Sup' ? 'Sup.' : datum.label"
      }
    }
  }
}
